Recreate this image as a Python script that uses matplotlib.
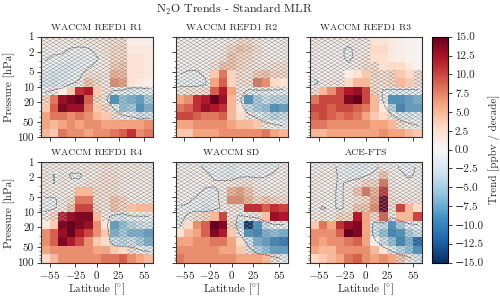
import numpy as np
import matplotlib
matplotlib.use('Agg')
import matplotlib.pyplot as plt
import matplotlib.hatch as mhatch
from matplotlib.path import Path
from matplotlib.colors import ListedColormap
from matplotlib.ticker import FixedLocator, FixedFormatter, NullFormatter, LogLocator

plt.rcParams['font.family'] = ['cmr10', 'DejaVu Serif']
plt.rcParams['mathtext.fontset'] = 'cm'
plt.rcParams['axes.formatter.use_mathtext'] = True
plt.rcParams['axes.unicode_minus'] = True
plt.rcParams['hatch.linewidth'] = 0.3
plt.rcParams['hatch.color'] = '#8a8a8a'

titles = ['WACCM REFD1 R1', 'WACCM REFD1 R2', 'WACCM REFD1 R3',
          'WACCM REFD1 R4', 'WACCM SD', 'ACE-FTS']
lat_centers = [-60, -50, -40, -30, -20, -10, 0, 10, 20, 30, 40, 50, 60]
lat_ticks = [-55, -25, 0, 25, 55]
p_ticks = [1, 2, 5, 10, 20, 50, 100]
cbar_ticks = [-15, -12.5, -10, -7.5, -5, -2.5, 0, 2.5, 5, 7.5, 10, 12.5, 15]

# rows go from 1 hPa down to 100 hPa
r1 = [[1, 1, 1, 1, 1, 1.5, 1.5, 1.5, 2, 2, 1, 1, 1],
      [.5, .5, .5, -.2, -.5, -.3, 1, 1.5, 2.5, 3, 1.5, 1.5, 1.5],
      [.3, -.3, -.5, -1, -1, -.5, -.2, 1, 3, 3, 2, 2, 1.5],
      [-.5, -1, -1.5, -1.5, -1, -.3, .5, 1, 3.5, 4, 2, 2, 1.5],
      [-1.5, -2, -1.5, -1, -.5, 1.5, 1.5, 1, 5, 4.5, 2, 2, 1.5],
      [-2, -2.5, -1.5, -.5, .5, 4, 2.5, 1, 7, 6, 2, 1.5, 1],
      [-.5, .5, 1, 4, 11, 12, 4, 1.5, -.5, -1, -1.5, -1, -.5],
      [3, 8, 13, 14, 15, 9, 3, 1, -9, -6, -7, -8, -5],
      [4, 9, 14, 13, 13, 8, 4, 3, -.5, -6, -5, -9, -7],
      [6, 8, 8, 7, 8, 7, 5, 4, 2, 0.5, -.5, -3, -2],
      [6, 5, 6, 7, 6, 7, 7, 6, 6, 6, 6, 6, 7],
      [5, 4, 8, 7, 7, 6, 7, 7, 8, 9, 11, 7, 8]]
r2 = [[.5, .5, .5, .5, .5, .5, 1, 2.5, 2.5, 1, .5, .5, .5],
      [.5, .5, .5, .5, .5, 1, 3, 4, 3.5, 2, .5, .5, .5],
      [.5, .5, .5, .5, .5, 1.5, 4, 3, 2.5, 1.5, .5, .5, .5],
      [.5, .5, .5, .5, 1.5, 4, 4, 3, 2, 1.5, 1.5, 2, 2],
      [0, -.5, -.5, .5, 4, 8, 3.5, 2, 1.5, 3.5, 4, 3, 2.5],
      [-.8, -1, -1, -.5, 6, 9, 3.5, 2, 2, 8, 7, 3, 2],
      [1, 1.5, 1.5, 2, 9, 12, 6, 1, -.5, -1, -1, -.5, -.5],
      [6, 7, 11, 12, 15, 13, 5, .5, -9, -5, -3, -4, -4],
      [8, 9, 11, 13, 12, 11, 5, 2, -3, -5, -6, -9, -8],
      [10, 10, 9, 8, 8, 9, 5, 3, 1, -1, -3, -4, -3],
      [6, 6, 7, 7, 7, 7, 6, 5, 5, 4, 1, 0, -1],
      [4, 4, 6, 6, 6, 7, 7, 7, 7, 7, 8, 6, 5]]
r3 = [[1, 1, 1, 1, 1, 1, 1, 2, 2, 1.5, 1, .5, .5],
      [.5, .5, .5, .5, -.6, 1, 1, 3, 3, 1.5, 1, .5, .5],
      [.5, .5, .5, .5, -.6, .8, 1.5, 2.5, 2.5, 1.5, 1, .5, .5],
      [.5, .5, .5, .5, .5, 1, 2, 2, 2.5, 3, 3, 1.5, .5],
      [.5, .5, .5, .5, 1, 2, 4, 3, 2, 3, 4, 3, 2],
      [-.5, .5, 1, 1, 3, 5, 5, 2, 2, 3, 5, 4, 2],
      [1.5, 5, 7, 10, 12, 13, 10, 3, -.5, -1, -1, -1, -.5],
      [8, 10, 10, 10, 14, 15, 10, 5, -.5, -9, -9, -8, -7],
      [10, 10, 9, 10, 10, 9, 8, 5, 1.5, -4, -10, -8, -8],
      [9, 10, 9, 8, 9, 8, 6, 4, 3, .5, -2, -2, -1],
      [8, 8, 7, 7, 7, 7, 7, 6, 6, 5, 2, .5, -.5],
      [5, 5, 6, 6, 6, 6, 6, 6, 7, 6, 6, 5, 4]]
r4 = [[1, 1, 1, 1, 1, 1, 1, 1.5, 1.5, 1, 1, 1, 1],
      [1, -.1, 1, -.3, -.3, 1, 1, 2, 2, 1, 1, 1, 1],
      [1, -.1, 1, .5, .5, 1.5, 1.5, 2, 2, 1, 1, 1, 1],
      [1, 1, 1, 1, 5, 5, 2, 2, 2, 1, 1, 1, 1],
      [-.5, -.5, 1, 2, 8, 8, 2, 1.5, 4, 3, 1, 1, 1],
      [-.5, -.3, 1, 4, 10, 10, 3, 1.5, 4, 3, 4.5, 5, 5],
      [1, 3, 12, 13, 14, 14, 5, 1, -1, -2, -.3, -.3, -.3],
      [1.5, 4, 14, 15, 14, 13, 7, 2, -8, -6, -4, -3, -2],
      [7, 9, 13, 15, 12, 10, 7, 4, -7, -5, -7, -7, -8],
      [7, 9, 14, 12, 10, 7, 4, 3, -3, -4, -3, -5, -7],
      [6, 7, 7, 7, 7, 7, 6, 6, 4, 3, 2, 0, -1],
      [3, 5, 7, 7, 7, 7, 7, 8, 8, 9, 7, 6, 5]]
sd = [[.5, .5, .5, -.5, -.5, -1, -1.5, -.5, -.5, -.5, -.5, -.5, .5],
      [.5, .5, .5, .5, -.5, -1, -1.5, -.5, -.5, -.5, -.2, .3, .5],
      [.5, .5, .5, .5, .3, .5, 1, 1.5, 2, 1, .7, .5, .5],
      [.5, .5, .5, -.5, -.5, .5, 5, 6, 4, 1.5, 1, 1, 1],
      [.5, .3, -.5, -1, -.5, .5, 7, 7, 5, 3, 4, 3, 2],
      [-.2, -.5, -.8, -2, -1, .5, 1.5, 1.5, 11, 11, 9, 11, 10],
      [-.8, .5, 2, 3, 5, 10, 1, -.5, .5, 1, 4.5, 13, 12],
      [-.3, 3, 7, 9, 15, 14, 3, -3, -15, -9, -3, -.5, -.5],
      [2, 5, 6, 9, 14, 12, 4, -.5, -9, -10, -7, -6, -7],
      [6, 6, 7, 7, 8, 8, 6, 3, -2, -7, -8, -10, -11],
      [7, 7, 7, 7, 7, 6, 6, 4, 2, -4, -6, -8, -8],
      [8, 7, 7, 7, 7, 7, 7, 6, 6, 6, 5, 2, -1]]
ace = [[.5, .5, .5, -.5, -1, -1, -1, -.5, .5, .5, -.2, -.5, .2],
       [.5, 1, 1, -.5, -1, -.8, -.3, .5, 4, .8, .3, -.3, .3],
       [1, .5, .5, -.3, .5, 1, 3, 3, 8, 1, .5, .5, .5],
       [1, .5, .5, -.5, 1, 4, 8, 5, 11, 1.5, 1, 1, 1],
       [1, 1, .5, -.5, 1, 2, 3, 6, 15, 2, 1.5, 1.5, 1],
       [.5, -.3, .5, -.5, 1, 4, 4, 7, 15, 2, 10, 5, 3],
       [1, 1.5, 1, 3, 3, 12, 6, 3, 9, 1, 5, 5, 10],
       [4, 8, 6, 11, 13, 14, 6, -2, -3, -9, -5, -1, -.5],
       [7, 7, 7, 9, 15, 14, 6, -2, -6, -10, -9, -5, -3],
       [7, 6, 7, 7, 8, 9, 6, 1, -3, -6, -10, -7, -12],
       [6, 5, 5, 7, 7, 7, 7, 5, 2, -1, -4, -6, -9],
       [3, 4, 5, 6, 8, 9, 7, 6, 7, 6, 4, 1, -2]]

# 1 = not significant (hatched)
r1_hatch = ['1111111111000', '1111111111000', '1111111111000', '1111111111000',
            '1111111111000', '1111111111000', '1100000111111', '1000001111111',
            '0000000111111', '0000000011111', '0000000000000', '0000000000000']
r2_hatch = ['1111111111111', '1111111111111', '1111111111111', '1111111111111',
            '1111000111111', '1111000111000', '1111000111111', '0000000111111',
            '0000000011111', '0000000011111', '0000000000111', '0000000000000']
r3_hatch = ['1111111000000', '1111111000000', '1111111000000', '1111111100000',
            '1111000111001', '1111000111001', '1000000111111', '0000000011111',
            '0000000001111', '0000000001111', '0000000000111', '0000000000000']
r4_hatch = ['1111111111111', '1111111111111', '1111111111111', '1111001111111',
            '1111001111111', '1111001111000', '1110000111111', '0000000011111',
            '0000000011111', '0000000011111', '0000000000111', '0000000000000']
sd_hatch = ['1111111111111', '1111111111111', '1111111111111', '1111111111111',
            '1111111111111', '1111111100000', '1111001111000', '1000001111111',
            '0000000111111', '0000000011111', '0000000011111', '0000000000011']
ace_hatch = ['1111111111111', '1111111111111', '1111111111111', '1111111111111',
             '1111111111111', '1111111111000', '1111100111000', '0000000111111',
             '0000000111111', '0000000011111', '0000000001111', '0000000000111']

panels = [r1, r2, r3, r4, sd, ace]
hatches = [r1_hatch, r2_hatch, r3_hatch, r4_hatch, sd_hatch, ace_hatch]


# the lattice in the reference is wider than tall, the stock 'x' hatch is square
class WideCross(mhatch.HatchPatternBase):
    nx, ny = 16, 27

    def __init__(self, hatch, density):
        self.on = 'x' in hatch
        self.shift = range(-self.ny, self.nx + self.ny)
        self.num_lines = len(self.shift) * 2 if self.on else 0
        self.num_vertices = self.num_lines * 2

    def set_vertices_and_codes(self, vertices, codes):
        run = self.ny / self.nx
        i = 0
        for k in self.shift:
            x0 = k / self.nx
            for x1 in (x0 + run, x0 - run):
                vertices[i] = x0, 0
                vertices[i + 1] = x1, 1
                codes[i] = Path.MOVETO
                codes[i + 1] = Path.LINETO
                i += 2


mhatch._hatch_types = [WideCross]

lat_c = np.array(lat_centers, dtype=float)
lat_e = np.append(lat_c - 5, lat_c[-1] + 5)
p_e = np.logspace(0, 2, 13)
p_c = np.sqrt(p_e[:-1] * p_e[1:])

W, H = 500., 298.
fig = plt.figure(figsize=(W / 100, H / 100), dpi=100)


def box(x0, y0, x1, y1):
    return [x0 / W, 1 - y1 / H, (x1 - x0) / W, (y1 - y0) / H]


lefts = [41, 175.5, 310]
tops = [36.7, 162.3]
mesh = None
for n in range(6):
    row, col = n // 3, n % 3
    ax = fig.add_axes(box(lefts[col], tops[row], lefts[col] + 112, tops[row] + 100.2))
    z = np.array(panels[n], dtype=float)
    mesh = ax.pcolormesh(lat_e, p_e, z, cmap='RdBu_r', vmin=-15, vmax=15)
    ax.contour(lat_c, p_c, z, levels=[0], colors='#333333', linewidths=0.45,
               linestyles=[(0, (3, 1.5))])

    h = np.array([[int(c) for c in s] for s in hatches[n]], dtype=float)
    ax.pcolor(lat_e, p_e, np.ma.masked_equal(h, 0), cmap=ListedColormap(['none']),
              hatch='x', linewidth=0)

    ax.set_yscale('log')
    ax.set_ylim(100, 1)
    ax.set_xlim(lat_e[0], lat_e[-1])
    ax.set_title(titles[n], fontsize=7, pad=5, color='#222222')
    ax.yaxis.set_major_locator(FixedLocator(p_ticks))
    ax.yaxis.set_minor_locator(LogLocator(base=10, subs=np.arange(1, 10) * 1.0))
    ax.yaxis.set_minor_formatter(NullFormatter())
    ax.set_xticks(lat_ticks)
    ax.tick_params(axis='both', which='major', labelsize=8, length=3, width=0.6, pad=2, colors='#222222')
    ax.tick_params(axis='y', which='minor', length=1.5, width=0.4, colors='#222222')
    for s in ax.spines.values():
        s.set_linewidth(0.8)
        s.set_color('#333333')
    if col == 0:
        ax.yaxis.set_major_formatter(FixedFormatter([str(p) for p in p_ticks]))
        ax.set_ylabel('Pressure [hPa]', fontsize=8, labelpad=2, color='#222222')
    else:
        ax.set_yticklabels([])
    if row == 1:
        ax.set_xlabel('Latitude [$^{\\circ}$]', fontsize=8, labelpad=0, color='#222222')
    else:
        ax.set_xticklabels([])

cax = fig.add_axes(box(432, 36.7, 448, 262.5))
cb = fig.colorbar(mesh, cax=cax)
cb.set_ticks(cbar_ticks)
cb.set_ticklabels([f'{t:.1f}'.replace('-', '\u2212') for t in cbar_ticks])
cb.ax.tick_params(labelsize=8, length=3, width=0.6, pad=2, colors='#222222')
cb.outline.set_linewidth(0.8)
cb.set_label('Trend [ppbv / decade]', fontsize=8, labelpad=3, color='#222222')

fig.text(234 / W, 1 - 9 / H, 'N$_2$O Trends - Standard MLR', fontsize=8.6, ha='center', va='center', color='#222222')

fig.savefig('out.png', dpi=100)
